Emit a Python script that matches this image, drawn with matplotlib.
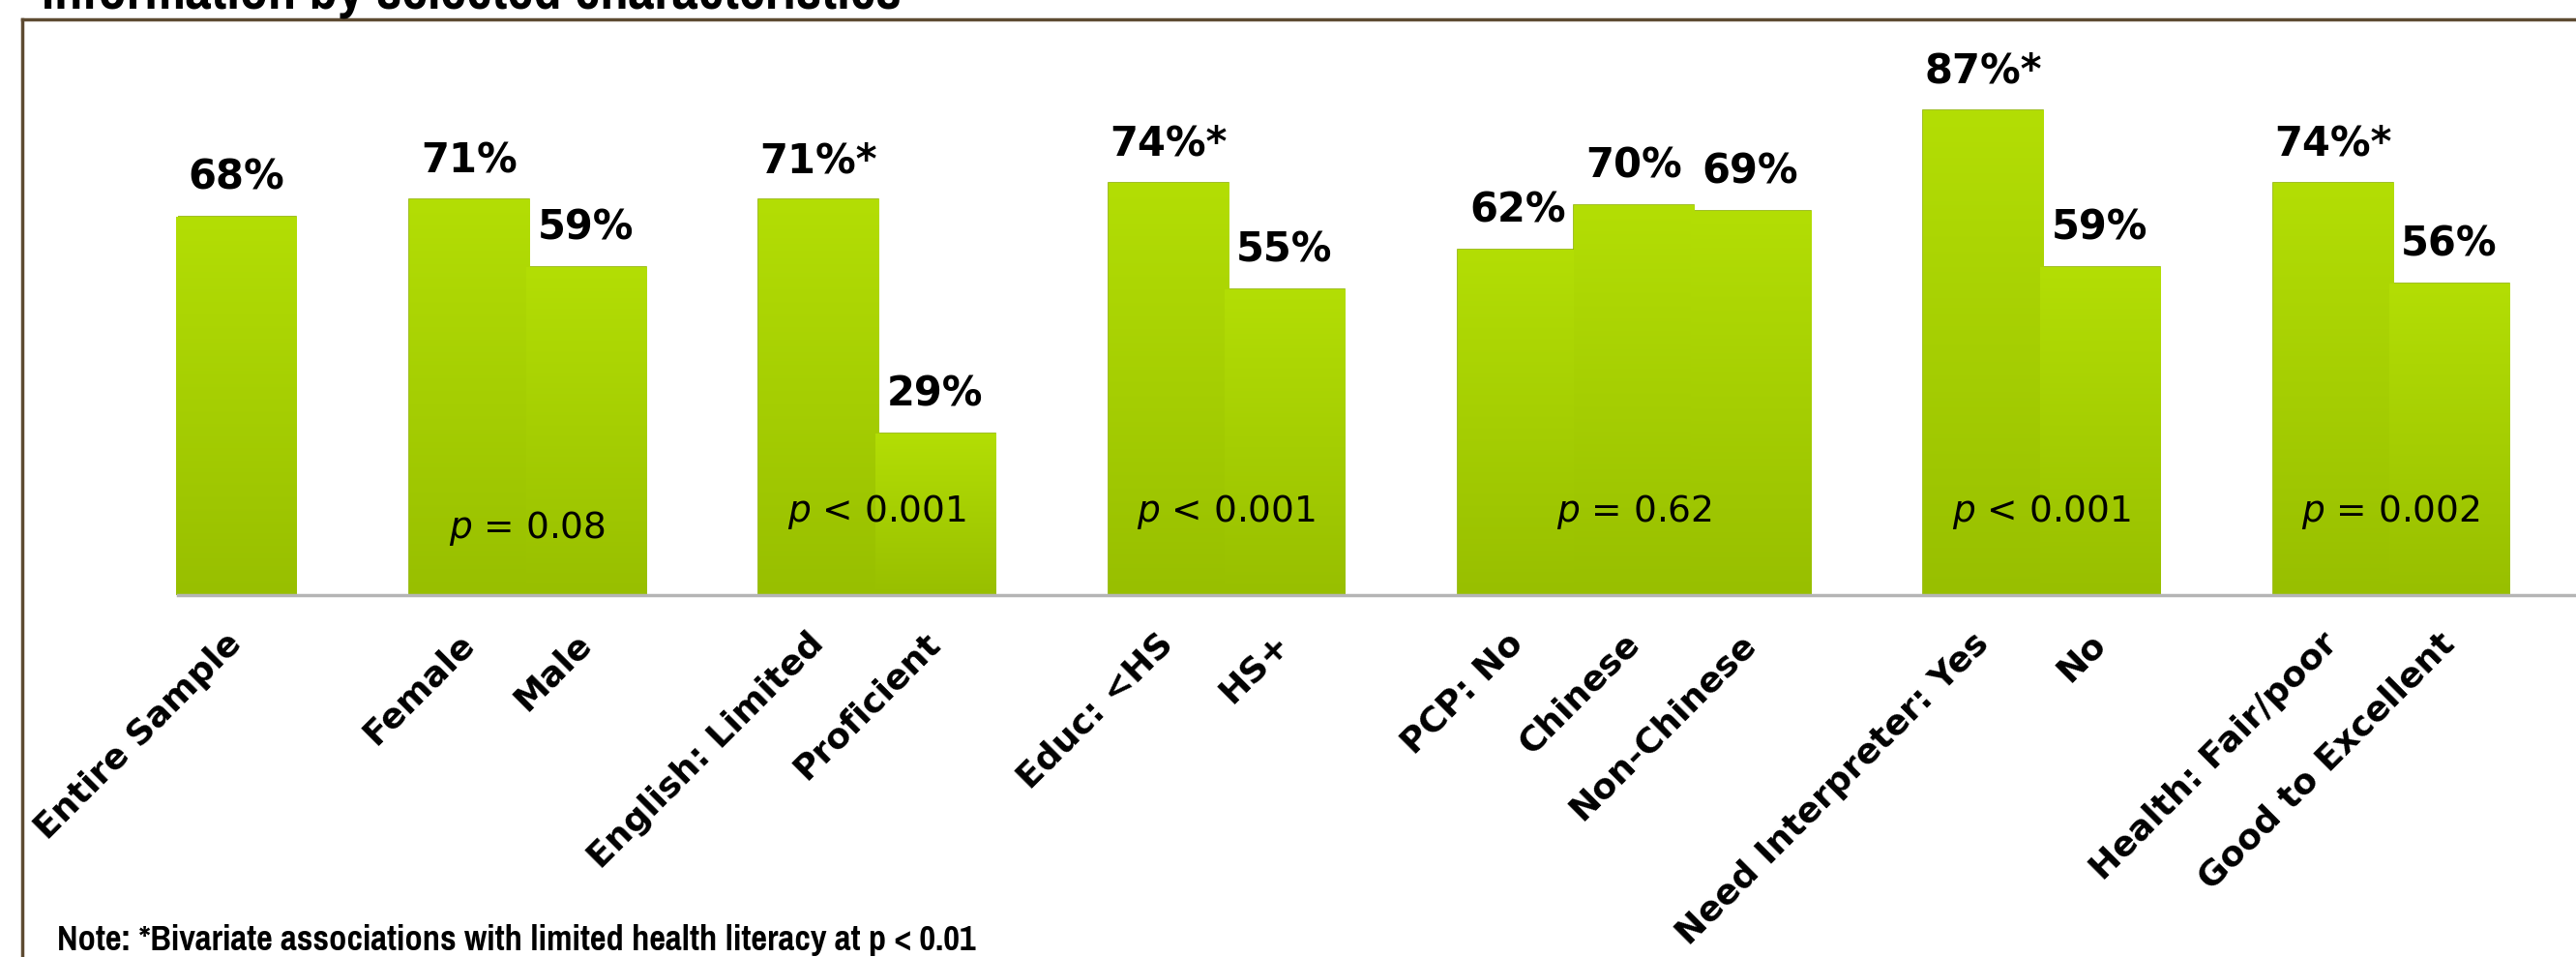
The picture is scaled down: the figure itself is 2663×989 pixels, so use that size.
import matplotlib.pyplot as plt
import numpy as np
from matplotlib import font_manager
from matplotlib.lines import Line2D

# chart data
categories = ["Entire Sample", "Female", "Male", "English: Limited", "Proficient",
              "Educ: <HS", "HS+", "PCP: No", "Chinese", "Non-Chinese",
              "Need Interpreter: Yes", "No", "Health: Fair/poor", "Good to Excellent"]
values = [68, 71, 59, 71, 29, 74, 55, 62, 70, 69, 87, 59, 74, 56]
value_labels = ["68%", "71%", "59%", "71%*", "29%", "74%*", "55%",
                "62%", "70%", "69%", "87%*", "59%", "74%*", "56%"]
# group of each bar (0 = entire sample, no p-value)
groups = [0, 1, 1, 2, 2, 3, 3, 4, 4, 4, 5, 5, 6, 6]
p_labels = {1: r"$p$ = 0.08", 2: r"$p$ < 0.001", 3: r"$p$ < 0.001",
            4: r"$p$ = 0.62", 5: r"$p$ < 0.001", 6: r"$p$ = 0.002"}
p_heights = {1: 12, 2: 15, 3: 15, 4: 15, 5: 15, 6: 15}

title = "information by selected characteristics"
note = "Note: *Bivariate associations with limited health literacy at p < 0.01"

# one empty slot between groups
x = []
pos = 0
for i, g in enumerate(groups):
    if i > 0 and g != groups[i - 1]:
        pos += 1
    x.append(pos)
    pos += 1
x = np.array(x, dtype=float)


def pick_narrow():
    # an installed narrow / condensed bold face, like Arial Narrow
    files = [f.fname for f in font_manager.fontManager.ttflist]
    for key in ("sansnarrow-bold.", "narrow-bold", "narrow", "condensed-bold", "condensed"):
        for fn in files:
            low = fn.lower()
            if key in low and "bold" in low and "italic" not in low and "oblique" not in low:
                return font_manager.FontProperties(fname=fn)
    return font_manager.FontProperties(family="DejaVu Sans", weight="bold")


narrow_prop = pick_narrow()
label_font = "DejaVu Sans"

fig = plt.figure(figsize=(26.63, 9.89), dpi=100)
ax = fig.add_axes([0.0692, 0.378, 0.9494, 0.582])

bars = ax.bar(x, values, width=1.03, color="#a6d000", edgecolor="#8fb300", linewidth=1.2, zorder=2)

# vertical gradient inside every bar
grad = np.linspace(0, 1, 256).reshape(-1, 1)
cmap = plt.matplotlib.colors.LinearSegmentedColormap.from_list("g", ["#98bf00", "#b3de05"])
for b in bars:
    x0, y0 = b.get_x(), b.get_y()
    im = ax.imshow(grad, cmap=cmap, aspect="auto", origin="lower",
                   extent=[x0, x0 + b.get_width(), y0, y0 + b.get_height()], zorder=2.5)
    im.set_clip_path(b)

for xi, v, lab in zip(x, values, value_labels):
    ax.annotate(lab, (xi, v), xytext=(0, 14), textcoords="offset points",
                ha="center", va="bottom", fontsize=30, fontweight="bold",
                family=label_font, zorder=4)

for g, lab in p_labels.items():
    xs = x[np.array(groups) == g]
    ax.text(xs.mean(), p_heights[g], lab, ha="center", va="center",
            fontsize=27, family=label_font, zorder=4)

ax.set_xlim(-0.5, 20.5)
ax.set_ylim(0, 100)
ax.set_xticks(x)
ax.set_xticklabels(categories, rotation=45, ha="right", va="center",
                   rotation_mode="anchor", fontsize=26, fontweight="bold", family=label_font)
ax.tick_params(axis="x", length=0, pad=32)
ax.set_yticks([])
for s in ["left", "right", "top"]:
    ax.spines[s].set_visible(False)
ax.spines["bottom"].set_color("#b5b5b5")
ax.spines["bottom"].set_linewidth(2.5)

# slide frame
frame_c = "#5e4b32"
fig.add_artist(Line2D([0.0086, 1.0], [0.9798, 0.9798], color=frame_c, lw=2.5))
fig.add_artist(Line2D([0.0086, 0.0086], [0.0, 0.9798], color=frame_c, lw=2.5))

t_title = fig.text(0.016, 0.991, title, ha="left", va="baseline",
                   fontproperties=narrow_prop, fontsize=40)
t_note = fig.text(0.022, 0.007, note, ha="left", va="baseline",
                  fontproperties=narrow_prop, fontsize=30)

# size the narrow texts to about their width on the slide (px at 100 dpi)
renderer = fig.canvas.get_renderer()
for t, target_w in ((t_title, 888), (t_note, 950)):
    w = t.get_window_extent(renderer).width
    t.set_fontsize(t.get_fontsize() * target_w / w)

fig.savefig("out.png", dpi=100)
